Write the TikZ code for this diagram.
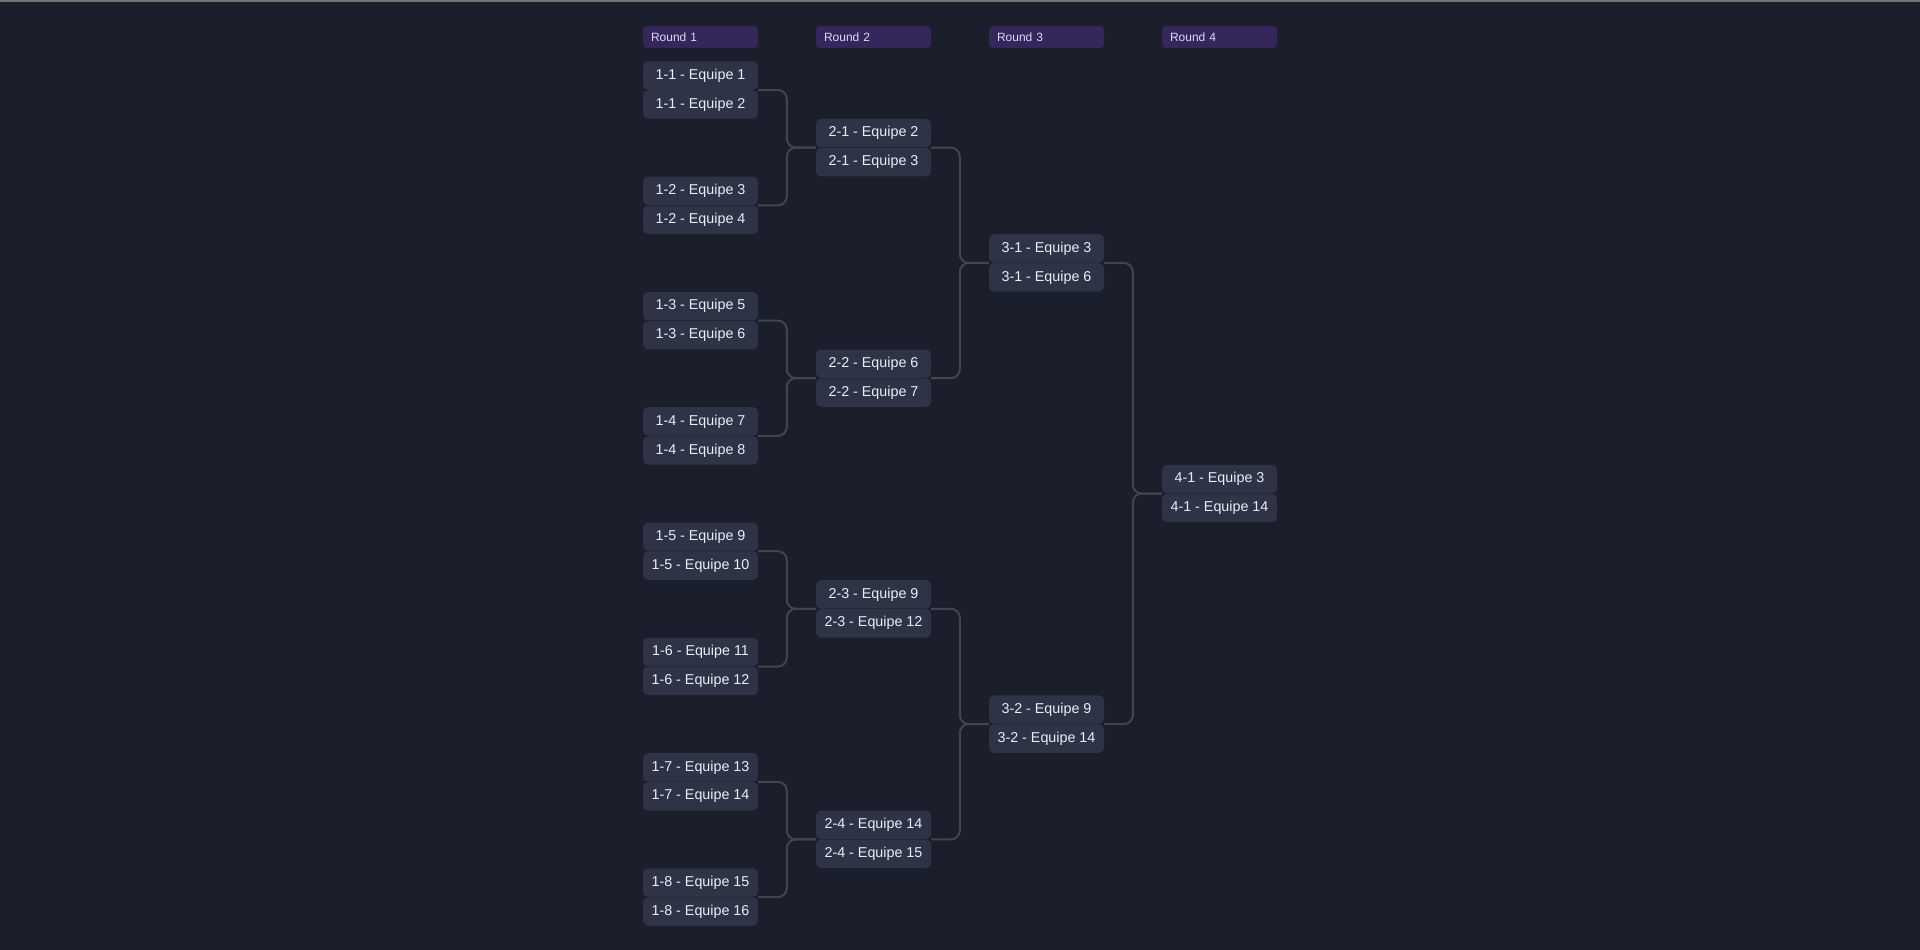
\documentclass[tikz,border=0pt]{standalone}
\usepackage{fontspec}
\setmainfont{Liberation Sans}
\usepackage{tikz}
\usetikzlibrary{calc}
\usetikzlibrary{positioning}

\definecolor{bgcol}{RGB}{27,31,43}
\definecolor{teamcol}{RGB}{46,52,69}
\definecolor{roundcol}{RGB}{53,38,91}
\definecolor{linkcol}{RGB}{68,69,74}
\definecolor{textcol}{RGB}{232,238,248}
\definecolor{roundtext}{RGB}{222,216,244}

\tikzset{
	team/.style = {fill=teamcol, rounded corners=5pt, minimum width=115pt, minimum height=28.5pt, inner sep=0pt, text=textcol, font=\fontsize{14.3}{16}\selectfont},
	hdr/.style = {fill=roundcol, rounded corners=4pt, text width=99pt, inner xsep=8pt, inner ysep=0pt, minimum height=22pt, align=left, text=roundtext, font=\fontsize{12}{14}\selectfont},
	link/.style = {draw=linkcol, line width=2pt, rounded corners=9pt},
}

\begin{document}
\begin{tikzpicture}[x=1pt, y=-1pt]
		\fill[bgcol] (0, 0) rectangle (1920, 950);
		\useasboundingbox (0, 0) rectangle (1920, 950);
		\fill[black!55!white] (0, 0) rectangle (1920, 2);

		\node[hdr] (r1) at (700.5, 37) {Round 1};
		\node[hdr] (r2) at (873.5, 37) {Round 2};
		\node[hdr] (r3) at (1046.5, 37) {Round 3};
		\node[hdr] (r4) at (1219.5, 37) {Round 4};

		% round 1
		\node[team, anchor=south] (m11a) at (700.5, 90) {1-1 - Equipe 1};
		\node[team, anchor=north] (m11b) at (700.5, 90) {1-1 - Equipe 2};
		\node[team, anchor=south] (m12a) at (700.5, 205.3) {1-2 - Equipe 3};
		\node[team, anchor=north] (m12b) at (700.5, 205.3) {1-2 - Equipe 4};
		\node[team, anchor=south] (m13a) at (700.5, 320.6) {1-3 - Equipe 5};
		\node[team, anchor=north] (m13b) at (700.5, 320.6) {1-3 - Equipe 6};
		\node[team, anchor=south] (m14a) at (700.5, 435.9) {1-4 - Equipe 7};
		\node[team, anchor=north] (m14b) at (700.5, 435.9) {1-4 - Equipe 8};
		\node[team, anchor=south] (m15a) at (700.5, 551.2) {1-5 - Equipe 9};
		\node[team, anchor=north] (m15b) at (700.5, 551.2) {1-5 - Equipe 10};
		\node[team, anchor=south] (m16a) at (700.5, 666.5) {1-6 - Equipe 11};
		\node[team, anchor=north] (m16b) at (700.5, 666.5) {1-6 - Equipe 12};
		\node[team, anchor=south] (m17a) at (700.5, 781.8) {1-7 - Equipe 13};
		\node[team, anchor=north] (m17b) at (700.5, 781.8) {1-7 - Equipe 14};
		\node[team, anchor=south] (m18a) at (700.5, 897.1) {1-8 - Equipe 15};
		\node[team, anchor=north] (m18b) at (700.5, 897.1) {1-8 - Equipe 16};

		% round 2
		\node[team, anchor=south] (m21a) at (873.5, 147.6) {2-1 - Equipe 2};
		\node[team, anchor=north] (m21b) at (873.5, 147.6) {2-1 - Equipe 3};
		\node[team, anchor=south] (m22a) at (873.5, 378.2) {2-2 - Equipe 6};
		\node[team, anchor=north] (m22b) at (873.5, 378.2) {2-2 - Equipe 7};
		\node[team, anchor=south] (m23a) at (873.5, 608.8) {2-3 - Equipe 9};
		\node[team, anchor=north] (m23b) at (873.5, 608.8) {2-3 - Equipe 12};
		\node[team, anchor=south] (m24a) at (873.5, 839.4) {2-4 - Equipe 14};
		\node[team, anchor=north] (m24b) at (873.5, 839.4) {2-4 - Equipe 15};

		% round 3
		\node[team, anchor=south] (m31a) at (1046.5, 262.9) {3-1 - Equipe 3};
		\node[team, anchor=north] (m31b) at (1046.5, 262.9) {3-1 - Equipe 6};
		\node[team, anchor=south] (m32a) at (1046.5, 724.1) {3-2 - Equipe 9};
		\node[team, anchor=north] (m32b) at (1046.5, 724.1) {3-2 - Equipe 14};

		% round 4
		\node[team, anchor=south] (m41a) at (1219.5, 493.5) {4-1 - Equipe 3};
		\node[team, anchor=north] (m41b) at (1219.5, 493.5) {4-1 - Equipe 14};

		\path[link] (m11a.south east) -| ([xshift=-29pt]m21a.south west) -- (m21a.south west);
		\path[link] (m12a.south east) -| ([xshift=-29pt]m21a.south west) -- (m21a.south west);
		\path[link] (m13a.south east) -| ([xshift=-29pt]m22a.south west) -- (m22a.south west);
		\path[link] (m14a.south east) -| ([xshift=-29pt]m22a.south west) -- (m22a.south west);
		\path[link] (m15a.south east) -| ([xshift=-29pt]m23a.south west) -- (m23a.south west);
		\path[link] (m16a.south east) -| ([xshift=-29pt]m23a.south west) -- (m23a.south west);
		\path[link] (m17a.south east) -| ([xshift=-29pt]m24a.south west) -- (m24a.south west);
		\path[link] (m18a.south east) -| ([xshift=-29pt]m24a.south west) -- (m24a.south west);
		\path[link] (m21a.south east) -| ([xshift=-29pt]m31a.south west) -- (m31a.south west);
		\path[link] (m22a.south east) -| ([xshift=-29pt]m31a.south west) -- (m31a.south west);
		\path[link] (m23a.south east) -| ([xshift=-29pt]m32a.south west) -- (m32a.south west);
		\path[link] (m24a.south east) -| ([xshift=-29pt]m32a.south west) -- (m32a.south west);
		\path[link] (m31a.south east) -| ([xshift=-29pt]m41a.south west) -- (m41a.south west);
		\path[link] (m32a.south east) -| ([xshift=-29pt]m41a.south west) -- (m41a.south west);
\end{tikzpicture}
\end{document}
